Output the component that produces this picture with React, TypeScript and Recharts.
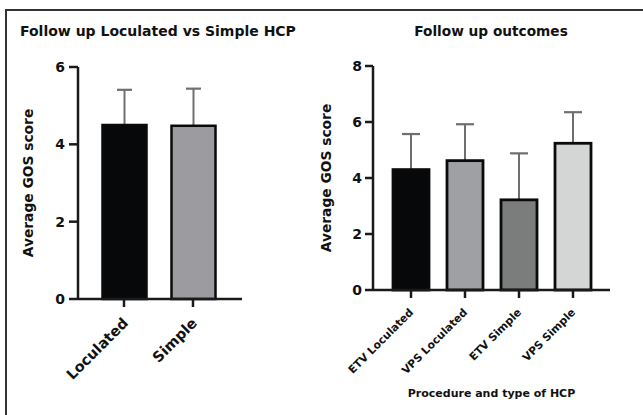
import React from 'react';
import { BarChart, Bar, XAxis, YAxis, Cell } from 'recharts';

const leftCategories = ['Loculated', 'Simple'];
const leftMeans = [4.5, 4.48];
const leftErrors = [0.91, 0.96];
const leftTicks = [0, 2, 4, 6];

const rightCategories = ['ETV Loculated', 'VPS Loculated', 'ETV Simple', 'VPS Simple'];
const rightMeans = [4.3, 4.62, 3.22, 5.24];
const rightErrors = [1.27, 1.3, 1.66, 1.11];
const rightTicks = [0, 2, 4, 6, 8];

const leftColors = ['#060809', '#9c9ca0'];
const rightColors = ['#060809', '#9fa0a4', '#7b7d7c', '#d4d5d5'];

const leftData = leftCategories.map((c, i) => ({ name: c, mean: leftMeans[i], err: leftErrors[i] }));
const rightData = rightCategories.map((c, i) => ({ name: c, mean: rightMeans[i], err: rightErrors[i] }));

const FONT = '"DejaVu Sans", "Liberation Sans", Arial, sans-serif';
const AX = '#1a1a1a';

const makeShape = (capW: number, sw: number) => (props: any) => {
  const { x, y, width, height, payload, fill } = props;
  const per = payload.mean ? height / payload.mean : 0;
  const top = y - payload.err * per;
  const cx = x + width / 2;
  return (
    <g>
      <line x1={cx} x2={cx} y1={y} y2={top} stroke="#6f6f6f" strokeWidth={2} />
      <line x1={cx - capW / 2} x2={cx + capW / 2} y1={top} y2={top} stroke="#6f6f6f" strokeWidth={2.2} />
      <rect x={x} y={y} width={width} height={height} fill={fill} stroke="#0a0a0a" strokeWidth={sw} />
    </g>
  );
};

const makeXTick = (fontSize: number, ox: number, oy: number) => (props: any) => {
  const { x, y, payload } = props;
  return (
    <g transform={`translate(${x + ox},${y + oy})`}>
      <text x={0} y={0} textAnchor="end" transform="rotate(-45)" fontFamily={FONT} fontWeight="bold" fontSize={fontSize} fill="#111">
        {payload.value}
      </text>
    </g>
  );
};

const yLabel = (dx: number, cy: number) => (props: any) => {
  const vb = props.viewBox;
  const x = vb.x + vb.width / 2 + dx;
  return (
    <text x={x} y={cy} transform={`rotate(-90, ${x}, ${cy})`} textAnchor="middle" dominantBaseline="central" fontFamily={FONT} fontWeight="bold" fontSize={13.8} fill="#111">
      Average GOS score
    </text>
  );
};

export default function App() {
  return (
    <div style={{ position: 'absolute', left: 0, top: 0, width: 643, height: 415, background: '#fff', overflow: 'hidden', fontFamily: FONT }}>
      <div style={{ position: 'absolute', left: 5, top: 9, width: 660, height: 430, borderLeft: '2px solid #333', borderTop: '2px solid #333' }} />
      <div style={{ position: 'absolute', left: 20, top: 23, fontWeight: 'bold', fontSize: 14, color: '#111', whiteSpace: 'nowrap' }}>
        Follow up Loculated vs Simple HCP
      </div>
      <div style={{ position: 'absolute', left: 391, width: 200, top: 23, textAlign: 'center', fontWeight: 'bold', fontSize: 13.7, color: '#111', whiteSpace: 'nowrap' }}>
        Follow up outcomes
      </div>
      <div style={{ position: 'absolute', left: 0, top: 0 }}>
        <BarChart width={300} height={415} data={leftData} margin={{ top: 67, left: 0, right: 58, bottom: 56 }}>
          <XAxis
            dataKey="name"
            height={60}
            padding={{ left: 11.5, right: 14.5 }}
            axisLine={{ stroke: AX, strokeWidth: 2.5 }}
            tickLine={{ stroke: AX, strokeWidth: 2.5 }}
            tickSize={8}
            tick={makeXTick(14.5, 5, 15)}
            interval={0}
          />
          <YAxis
            width={78}
            domain={[0, 6]}
            ticks={leftTicks}
            interval={0}
            axisLine={{ stroke: AX, strokeWidth: 2.5 }}
            tickLine={{ stroke: AX, strokeWidth: 2.5 }}
            tickSize={9}
            tickMargin={4}
            tick={{ fontFamily: FONT, fontWeight: 'bold', fontSize: 14, fill: '#111' }}
            label={yLabel(-11, 183)}
          />
          <Bar dataKey="mean" barSize={44} isAnimationActive={false} shape={makeShape(15, 2.5)}>
            {leftData.map((d, i) => (
              <Cell key={d.name} fill={leftColors[i]} />
            ))}
          </Bar>
        </BarChart>
      </div>
      <div style={{ position: 'absolute', left: 300, top: 0 }}>
        <BarChart width={343} height={415} data={rightData} margin={{ top: 66, left: 0, right: 33, bottom: 65 }}>
          <XAxis
            dataKey="name"
            height={60}
            padding={{ left: 11, right: 10 }}
            axisLine={{ stroke: AX, strokeWidth: 2.5 }}
            tickLine={{ stroke: AX, strokeWidth: 2.5 }}
            tickSize={8}
            tick={makeXTick(10.8, 3, 13)}
            interval={0}
            label={{ value: 'Procedure and type of HCP', position: 'insideBottom', offset: -47, fontFamily: FONT, fontWeight: 'bold', fontSize: 11, fill: '#111' }}
          />
          <YAxis
            width={73}
            domain={[0, 8]}
            ticks={rightTicks}
            interval={0}
            axisLine={{ stroke: AX, strokeWidth: 2.5 }}
            tickLine={{ stroke: AX, strokeWidth: 2.5 }}
            tickSize={8}
            tickMargin={3}
            tick={{ fontFamily: FONT, fontWeight: 'bold', fontSize: 14, fill: '#111' }}
            label={yLabel(-10.5, 178)}
          />
          <Bar dataKey="mean" barSize={36} isAnimationActive={false} shape={makeShape(18, 2.8)}>
            {rightData.map((d, i) => (
              <Cell key={d.name} fill={rightColors[i]} />
            ))}
          </Bar>
        </BarChart>
      </div>
    </div>
  );
}
